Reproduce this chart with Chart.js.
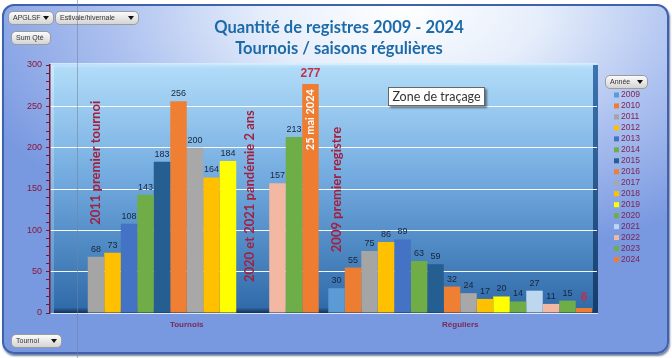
<!DOCTYPE html>
<html><head><meta charset="utf-8">
<script src="https://cdn.jsdelivr.net/npm/chart.js@4.4.1/dist/chart.umd.min.js"></script>
<style>
html,body{margin:0;padding:0;background:#fff;}
#wrap{position:relative;width:672px;height:358px;overflow:hidden;font-family:"Liberation Sans",Arial,sans-serif;}
#frame{position:absolute;left:2px;top:4px;width:663px;height:346px;border-radius:12px;border:2px solid #3F62AE;
 background:radial-gradient(ellipse 70% 75% at 60% 0%, #ffffff 0%, #e6eefb 30%, #aec2f0 62%, #7898e0 100%);
 box-shadow:1px 2px 2px rgba(20,40,90,0.6);}
#c{position:absolute;left:0;top:0;}
.btn{position:absolute;height:12px;border:1px solid #9c9c9c;border-radius:5px;background:linear-gradient(#fbfbfb,#d4d4d4);font-size:7px;line-height:12px;color:#333;padding-left:4px;}
.arr{position:absolute;right:4px;top:4px;width:0;height:0;border-left:3px solid transparent;border-right:3px solid transparent;border-top:4px solid #111;}
#title{position:absolute;left:3px;width:672px;top:17px;text-align:center;color:#1C6AA8;font:bold 16.5px Lato,sans-serif;line-height:21px;}
#tip{position:absolute;left:388px;top:87px;width:95px;height:17px;background:#fff;border:1px solid #666;box-shadow:2px 2px 2px rgba(0,0,0,0.45);font:12.5px Lato,sans-serif;color:#333;line-height:17px;text-align:center;}
#vline{position:absolute;left:77px;top:0;width:1px;height:358px;background:rgba(120,130,150,0.55);}
</style></head>
<body>
<div id="wrap">
 <div id="frame"></div>
 <canvas id="c" width="672" height="358"></canvas>
 <div id="title">Quantité de registres 2009 - 2024<br>Tournois / saisons régulières</div>
 <div class="btn" style="left:8px;top:11px;width:40px;">APGLSF<span class="arr"></span></div>
 <div class="btn" style="left:55px;top:11px;width:78px;">Estivale/hivernale<span class="arr"></span></div>
 <div class="btn" style="left:11px;top:31px;width:34px;">Sum Qté</div>
 <div class="btn" style="left:605px;top:75px;width:37px;">Année<span class="arr"></span></div>
 <div class="btn" style="left:11px;top:334px;width:45px;">Tournoi<span class="arr"></span></div>
 <div id="tip">Zone de traçage</div>
 <div id="vline"></div>
</div>
<script>
const years = ['2009','2010','2011','2012','2013','2014','2015','2016','2017','2018','2019','2020','2021','2022','2023','2024'];
const categories = ['Tournois','Réguliers'];
const tournois  = [null,null,68,73,108,143,183,256,200,164,184,null,null,157,213,277];
const reguliers = [30,55,75,86,89,63,59,32,24,17,20,14,27,11,15,6];
const yMin = 0, yMax = 300, yMajor = 50, yMinor = 10;

const barColors = ['#5B9BD5','#ED7D31','#A5A5A5','#FFC000','#4472C4','#70AD47','#255E91','#EE7F33',
                   '#A8A8A8','#FFC000','#FFFF00','#70AD47','#BDD7EE','#F2B8A2','#6DAE48','#EE7D32'];

const datasets = years.map((y,i)=>({
  label:y, data:[tournois[i], reguliers[i]], backgroundColor:barColors[i],
  borderWidth:0, categoryPercentage:0.965, barPercentage:1
}));

const crimson = '#A3203F';

const decor = {
  id:'decor',
  beforeDraw(chart){
    const {ctx, chartArea:a} = chart;
    ctx.save();
    const g = ctx.createLinearGradient(0,a.top,0,a.bottom);
    g.addColorStop(0,'#B2DDF9'); g.addColorStop(0.45,'#73ABE0'); g.addColorStop(1,'#2E69A8');
    ctx.fillStyle = g; ctx.fillRect(a.left,a.top,a.right-a.left,a.bottom-a.top);
    const gt = ctx.createLinearGradient(0,a.top-2,0,a.top+4);
    gt.addColorStop(0,'#D8F0FF'); gt.addColorStop(1,'rgba(178,221,249,0)');
    ctx.fillStyle = gt; ctx.fillRect(a.left,a.top-2,a.right-a.left,6);
    const gl = ctx.createLinearGradient(0,a.top,0,a.bottom);
    gl.addColorStop(0,'#C8EBFF'); gl.addColorStop(1,'#4D88C4');
    ctx.fillStyle = gl; ctx.fillRect(a.left,a.top,4,a.bottom-a.top);
    const gr = ctx.createLinearGradient(0,a.top,0,a.bottom);
    gr.addColorStop(0,'#3D74B0'); gr.addColorStop(1,'#153C6A');
    ctx.fillStyle = gr; ctx.fillRect(a.right-4,a.top,5,a.bottom-a.top);
    const gf = ctx.createLinearGradient(0,a.bottom-5,0,a.bottom);
    gf.addColorStop(0,'rgba(27,61,102,0.2)'); gf.addColorStop(1,'#142E52');
    ctx.fillStyle = gf; ctx.fillRect(a.left+4,a.bottom-5,a.right-a.left-8,5);
    ctx.fillStyle = 'rgba(230,240,255,0.9)'; ctx.fillRect(a.left,a.bottom,a.right-a.left+1,1);
    ctx.restore();
  },
  afterDatasetsDraw(chart){
    const {ctx, scales:{x,y}} = chart;
    ctx.save();
    let barW = 16;
    chart.data.datasets.forEach((ds,i)=>{
      const meta = chart.getDatasetMeta(i);
      meta.data.forEach((el,j)=>{
        const v = ds.data[j];
        if(v==null) return;
        barW = el.width;
        const last = i===years.length-1;
        ctx.font = last ? 'bold 12px "Liberation Sans"' : '9px "Liberation Sans"';
        ctx.fillStyle = last ? '#C0304A' : '#16243C';
        ctx.textAlign='center'; ctx.textBaseline='bottom';
        ctx.fillText(String(v), el.x, el.y-(last?4:3));
      });
    });
    const slotX = (cat, idx) => x.getPixelForValue(cat) + (idx - (years.length-1)/2)*barW;
    const base = y.getPixelForValue(0);
    function vtext(txt, cx, yy, align, font, color){
      ctx.save(); ctx.translate(cx, yy); ctx.rotate(-Math.PI/2);
      ctx.font = font; ctx.fillStyle = color; ctx.textAlign = align; ctx.textBaseline='middle';
      ctx.fillText(txt,0,0); ctx.restore();
    }
    const af = 'bold 13px Lato';
    vtext('2011 premier tournoi', slotX(0,2), y.getPixelForValue(tournois[2]) - 32, 'left', af, crimson);
    vtext('2020 et 2021 pandémie 2 ans', slotX(0,11.35), base - 31, 'left', af, crimson);
    vtext('2009 premier registre', slotX(1,0), y.getPixelForValue(reguliers[0]) - 36, 'left', af, crimson);
    vtext('25 mai 2024', slotX(0,15), y.getPixelForValue(tournois[15]) + 5, 'right', 'bold 11px Lato', '#FFFFFF');
    ctx.font = '8.5px "Liberation Sans"'; ctx.textAlign='left'; ctx.textBaseline='middle';
    chart.data.datasets.forEach((ds,i)=>{
      const ly = 95 + i*10.97;
      ctx.fillStyle = ds.backgroundColor; ctx.fillRect(614, ly-2.5, 5, 5);
      ctx.fillStyle = '#7B2455'; ctx.fillText(ds.label, 621, ly);
    });
    // category labels
    ctx.font = 'bold 8px "Liberation Sans"'; ctx.fillStyle = '#7A2A55';
    ctx.textAlign = 'center'; ctx.textBaseline = 'middle';
    categories.forEach((c,k)=> ctx.fillText(c, x.getPixelForValue(k), base + 12));
    ctx.restore();
  }
};

new Chart(document.getElementById('c'), {
  type:'bar',
  data:{labels:categories, datasets},
  plugins:[decor],
  options:{
    responsive:false, animation:false, devicePixelRatio:1,
    layout:{padding:{left:0,right:75,top:65,bottom:25}},
    plugins:{legend:{display:false}, tooltip:{enabled:false}, title:{display:false}},
    scales:{
      x:{
        grid:{display:false}, border:{display:false},
        ticks:{display:false},
        afterFit(s){ s.height = 20; }
      },
      y:{
        min:yMin, max:yMax,
        ticks:{stepSize:yMinor, autoSkip:false, callback:v => (v % yMajor === 0 ? v : ''),
               color:'#8A1538', font:{size:9,family:'Liberation Sans'}, padding:4},
        grid:{
          color: c => (c.tick && c.tick.value % yMajor === 0 && c.tick.value > yMin && c.tick.value < yMax) ? 'rgba(255,255,255,0.95)' : 'rgba(0,0,0,0)',
          tickColor:'#7A1535', tickLength:4, lineWidth:1
        },
        border:{color:'#7A1535', width:1.5},
        afterFit(s){ s.width = 50; }
      }
    }
  }
});
</script>
</body></html>
